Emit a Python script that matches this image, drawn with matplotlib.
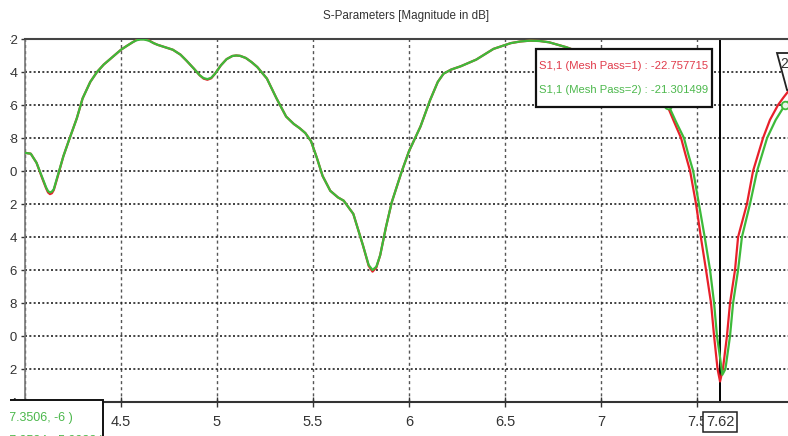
import numpy as np
import matplotlib
matplotlib.use("Agg")
import matplotlib.pyplot as plt
from matplotlib.patches import Rectangle, Polygon
from matplotlib.transforms import blended_transform_factory

plt.rcParams['font.family'] = ['Liberation Sans', 'DejaVu Sans']

# Frequency sweep (GHz) where both mesh passes coincide
freq_common = [4.00, 4.03, 4.06, 4.09, 4.11, 4.12, 4.13, 4.14, 4.15, 4.17,
               4.20, 4.23, 4.27, 4.30, 4.34, 4.375, 4.41, 4.44, 4.47, 4.50,
               4.53, 4.56, 4.58, 4.60, 4.62, 4.645, 4.67, 4.69, 4.73, 4.77,
               4.81, 4.84, 4.88, 4.91, 4.93, 4.95, 4.97, 4.99, 5.02, 5.05,
               5.08, 5.10, 5.12, 5.15, 5.18, 5.21, 5.26, 5.31, 5.36, 5.40,
               5.43, 5.46, 5.49, 5.52, 5.55, 5.59, 5.63, 5.66, 5.71, 5.76,
               5.79, 5.81, 5.83, 5.85, 5.88, 5.91, 5.96, 6.00, 6.06, 6.11,
               6.15, 6.18, 6.22, 6.27, 6.35, 6.44, 6.53, 6.58, 6.63, 6.68,
               6.73, 6.82, 6.90, 7.00, 7.10, 7.20, 7.28]

# |S11| in dB, mesh pass 1
s11_common_pass1 = [-8.9, -8.95, -9.5, -10.45, -11.05, -11.3, -11.4, -11.35, -11.15, -10.35,
                    -9.1, -8.1, -6.8, -5.6, -4.6, -4.0, -3.55, -3.25, -2.95, -2.65,
                    -2.42, -2.2, -2.06, -2.0, -2.0, -2.08, -2.25, -2.35, -2.5, -2.65,
                    -2.95, -3.3, -3.8, -4.2, -4.4, -4.47, -4.38, -4.1, -3.6, -3.22,
                    -3.03, -3.0, -3.02, -3.15, -3.4, -3.7, -4.4, -5.6, -6.7, -7.15,
                    -7.4, -7.7, -8.2, -9.2, -10.3, -11.2, -11.6, -11.8, -12.6, -14.5,
                    -15.75, -16.1, -15.85, -15.1, -13.4, -11.9, -10.1, -8.8, -7.3, -5.7,
                    -4.6, -4.1, -3.85, -3.65, -3.25, -2.6, -2.25, -2.15, -2.1, -2.12,
                    -2.2, -2.5, -2.85, -3.4, -4.1, -4.9, -5.5]

# |S11| in dB, mesh pass 2
s11_common_pass2 = [-8.9, -8.95, -9.5, -10.4, -11.0, -11.22, -11.3, -11.25, -11.1, -10.3,
                    -9.1, -8.1, -6.8, -5.6, -4.6, -4.0, -3.55, -3.25, -2.95, -2.65,
                    -2.42, -2.2, -2.08, -2.03, -2.03, -2.1, -2.25, -2.35, -2.5, -2.65,
                    -2.95, -3.3, -3.8, -4.2, -4.37, -4.43, -4.35, -4.1, -3.6, -3.22,
                    -3.03, -3.0, -3.02, -3.15, -3.4, -3.7, -4.4, -5.6, -6.7, -7.15,
                    -7.4, -7.7, -8.2, -9.2, -10.3, -11.2, -11.6, -11.8, -12.6, -14.5,
                    -15.7, -16.0, -15.8, -15.1, -13.4, -11.9, -10.1, -8.8, -7.3, -5.7,
                    -4.6, -4.1, -3.85, -3.65, -3.25, -2.6, -2.25, -2.15, -2.1, -2.12,
                    -2.2, -2.5, -2.85, -3.4, -4.1, -4.9, -5.5]

# Resonance around 7.62 GHz
freq_dip_pass1 = [7.344, 7.38, 7.417, 7.44, 7.464, 7.495, 7.52, 7.547, 7.573, 7.589,
                  7.607, 7.62, 7.635, 7.656, 7.672, 7.698, 7.714, 7.76, 7.792, 7.844,
                  7.88, 7.922, 7.95, 7.98]
s11_dip_pass1 = [-6.0, -7.0, -8.0, -9.0, -10.0, -12.0, -14.0, -16.0, -18.0, -20.0,
                 -22.0, -22.757715, -22.0, -20.0, -18.0, -16.0, -14.0, -12.0, -10.0, -8.0,
                 -6.9, -6.0, -5.55, -5.1]

freq_dip_pass2 = [7.3506, 7.39, 7.432, 7.455, 7.48, 7.51, 7.54, 7.568, 7.589, 7.604,
                  7.62, 7.632, 7.648, 7.672, 7.688, 7.714, 7.734, 7.776, 7.813, 7.865,
                  7.91, 7.9584, 7.98]
s11_dip_pass2 = [-6.0, -7.0, -8.0, -9.0, -10.0, -12.0, -14.0, -16.0, -18.0, -20.0,
                 -21.301499, -22.35, -22.0, -20.0, -18.0, -16.0, -14.0, -12.0, -10.0, -8.0,
                 -6.9, -5.9932, -5.75]

# -6 dB crossing markers on the pass-2 curve
marker_freqs = [7.3506, 7.9584]
marker_levels = [-6.0, -5.9932]
marker_names = ["1", "2"]

# Cursor frequency
cursor_freq = 7.62

x_ticks = [4.0, 4.5, 5.0, 5.5, 6.0, 6.5, 7.0, 7.5, 8.0]
x_tick_labels = ["", "4.5", "5", "5.5", "6", "6.5", "7", "7.5", ""]
y_ticks = [-2, -4, -6, -8, -10, -12, -14, -16, -18, -20, -22, -24]

RED = '#e8202a'
GREEN = '#3dba3a'
TXT_RED = '#e03a4a'
TXT_GREEN = '#4cb84c'

freq_pass1 = np.array(freq_common + freq_dip_pass1)
s11_pass1 = np.array(s11_common_pass1 + s11_dip_pass1)
freq_pass2 = np.array(freq_common + freq_dip_pass2)
s11_pass2 = np.array(s11_common_pass2 + s11_dip_pass2)

W, H = 788, 436
fig = plt.figure(figsize=(W / 100, H / 100), dpi=100)
fig.patch.set_facecolor('white')


def fig_xy(px, py):
    return px / W, 1 - py / H


ax = fig.add_axes([25 / W, 1 - 402 / H, (793 - 25) / W, (402 - 39) / H])
ax.set_xlim(4.0, 8.0)
ax.set_ylim(-24, -2)

ax.plot(freq_pass1, s11_pass1, color=RED, lw=1.6, zorder=3, solid_joinstyle='round')
ax.plot(freq_pass2, s11_pass2, color=GREEN, lw=1.6, zorder=4, solid_joinstyle='round')
ax.plot(marker_freqs, marker_levels, ls='none', marker='o', ms=5.5,
        mfc='#e8f8e8', mec=GREEN, mew=1.3, zorder=5)

# Cursor line
ax.axvline(cursor_freq, color='black', lw=1.4, zorder=2.5)

ax.set_xticks(x_ticks)
ax.set_xticklabels(x_tick_labels)
ax.set_yticks(y_ticks)
ax.set_yticklabels([str(v) for v in y_ticks])

ax.yaxis.grid(True, color='#222222', lw=1.2, ls=(0, (1.2, 1.4)))
ax.xaxis.grid(True, color='#555555', lw=1.0, ls=(0, (2.2, 2.2)))
ax.set_axisbelow(True)

ax.tick_params(axis='y', direction='out', length=3, width=1, pad=2.0,
               labelsize=9.5, colors='#333333')
ax.tick_params(axis='x', direction='inout', length=7, width=1, pad=5.5,
               labelsize=10.5, colors='#333333')

for side, col, lw in [('top', '#444444', 1.5), ('left', '#777777', 1.2),
                      ('bottom', '#333333', 1.5), ('right', '#444444', 1.5)]:
    ax.spines[side].set_color(col)
    ax.spines[side].set_linewidth(lw)

fig.text(406 / W, 1 - 16 / H, 'S-Parameters [Magnitude in dB]', ha='center',
         va='center', fontsize=8.4, color='#333333')

# Cursor readout box
v1 = np.interp(cursor_freq, freq_pass1, s11_pass1)
v2 = np.interp(cursor_freq, freq_pass2, s11_pass2)
bx0, by0 = fig_xy(536, 107)
bx1, by1 = fig_xy(712, 49)
fig.patches.append(Rectangle((bx0, by0), bx1 - bx0, by1 - by0, transform=fig.transFigure,
                             fc='white', ec='#111111', lw=1.6, zorder=6))
fig.text(*fig_xy(539, 66), f"S1,1 (Mesh Pass=1) : {v1:.6f}", ha='left', va='center',
         fontsize=8.1, color=TXT_RED, zorder=7)
fig.text(*fig_xy(539, 90), f"S1,1 (Mesh Pass=2) : {v2:.6f}", ha='left', va='center',
         fontsize=8.1, color=TXT_GREEN, zorder=7)

# Cursor frequency tag below the axis
trans = blended_transform_factory(ax.transData, ax.transAxes)
ax.text(cursor_freq, -(422 - 402) / 363, f"{cursor_freq:.2f}", transform=trans,
        ha='center', va='center', fontsize=10.5, color='#333333', zorder=10,
        clip_on=False,
        bbox=dict(boxstyle='square,pad=0.22', fc='white', ec='#222222', lw=1.1))

# Marker 2 callout
poly = [fig_xy(777, 53), fig_xy(802, 53), fig_xy(793, 90), fig_xy(787, 90)]
fig.patches.append(Polygon(poly, closed=True, transform=fig.transFigure,
                           fc='white', ec='#222222', lw=1.3, zorder=6))
fig.text(*fig_xy(784.5, 64), marker_names[1], ha='center', va='center',
         fontsize=10, color='#333333', zorder=7)

# Marker coordinate readout
mx0, my0 = fig_xy(-5, 445)
mx1, my1 = fig_xy(103, 400)
fig.patches.append(Rectangle((mx0, my0), mx1 - mx0, my1 - my0, transform=fig.transFigure,
                             fc='white', ec='#111111', lw=1.4, zorder=6))
fig.text(*fig_xy(5, 418), f"({marker_freqs[0]:.4f}, {marker_levels[0]:g} )", ha='left',
         va='center', fontsize=9, color=TXT_GREEN, zorder=7)
fig.text(*fig_xy(5, 441), f"({marker_freqs[1]:.4f}, {marker_levels[1]:.4f} )", ha='left',
         va='center', fontsize=9, color=TXT_GREEN, zorder=7)

# Blank left margin strip
fig.patches.append(Rectangle((0, 0), 10 / W, 1, transform=fig.transFigure,
                             fc='white', ec='none', zorder=20))

fig.savefig('out.png', dpi=100, facecolor='white')
